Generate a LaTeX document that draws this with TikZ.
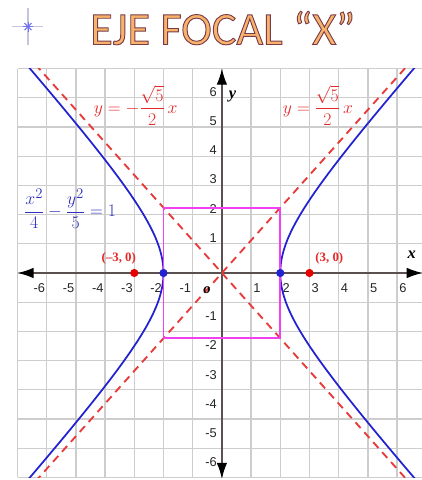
\documentclass[tikz,border=0pt]{standalone}
\usepackage{amsmath}
\usepackage{fontspec}
\newfontfamily\labfont{Liberation Sans}
\newfontfamily\titlefont[FakeBold=2.0]{Carlito}
\newfontfamily\eqfont{Liberation Serif}
\usetikzlibrary{arrows.meta,calc}
\definecolor{gridc}{HTML}{CDCDCD}
\definecolor{axisc}{HTML}{5A5050}
\definecolor{asym}{HTML}{E83A3A}
\definecolor{hyp}{HTML}{2222D0}
\definecolor{boxc}{HTML}{F040F0}
\definecolor{titlefill}{HTML}{F7B36A}
\definecolor{titleline}{HTML}{7A3A4A}
\definecolor{eqred}{HTML}{E62828}
\definecolor{eqblue}{HTML}{3030C0}
\definecolor{starline}{HTML}{C4C4DC}
\definecolor{starc}{HTML}{7070F0}
\tikzset{
  gridline/.style={gridc, line width=1.3pt},
  axisline/.style={axisc, line width=1.3pt, {Latex[black,length=0.55cm,width=0.36cm]}-{Latex[black,length=0.55cm,width=0.36cm]}},
  asymline/.style={asym, line width=1.8pt, dash pattern=on 7.5pt off 5.5pt},
  hypline/.style={hyp, line width=1.7pt},
  boxline/.style={boxc, line width=1.7pt},
  ticklab/.style={font=\labfont\fontsize{12.5}{14}\selectfont, inner sep=0pt, text=black!85},
  ptlab/.style={font=\eqfont\bfseries\fontsize{12.5}{14}\selectfont, text=eqred, inner sep=0pt},
  eqlab/.style={font=\fontsize{19}{22}\selectfont, inner sep=0pt},
  titletext/.style={font=\titlefont\fontsize{45}{50}\selectfont, inner sep=0pt},
}
\begin{document}
\begin{tikzpicture}[x=1cm,y=1cm]
\useasboundingbox (-7.60,-7.09) rectangle (6.85,9.35);
\fill[white] (-7.60,-7.09) rectangle (6.85,9.35);

% star icon
\coordinate (st) at (-6.64,8.44);
\draw[starline, line width=1.2pt] (-6.64,9.08) -- (-6.64,7.81);
\draw[starline, line width=1.2pt] (-7.19,8.44) -- (-6.13,8.44);
\foreach \a in {0,45,90,135} {
  \draw[starc, line width=1pt] ($(st)+(\a:0.17)$) -- ($(st)+(\a+180:0.17)$);
}

% title
\node[titletext, text=titlefill] (title) at (0.03,8.39) {\special{pdf:literal direct 0.478 0.227 0.290 RG}EJE FOCAL “X”};

% grid
\draw[gridline] (-7,-7) grid (6.85,7);

% axes
\coordinate (xl) at (-7,0);
\coordinate (xr) at (6.88,0);
\coordinate (yb) at (0,-7.05);
\coordinate (yt) at (0,7);
\draw[axisline] (xl) -- (xr);
\draw[axisline] (yb) -- (yt);

% tick labels
\foreach \i in {-6,...,-1} {
  \node[ticklab, anchor=east] (xn\i) at (\i-0.05,-0.52) {-\number\numexpr-\i\relax};
  \node[ticklab, anchor=east] (yn\i) at (-0.17,\i-0.48) {-\number\numexpr-\i\relax};
}
\foreach \i in {1,...,6} {
  \node[ticklab, anchor=west] (xp\i) at (\i+0.07,-0.52) {\i};
  \node[ticklab, anchor=east] (yp\i) at (-0.17,\i+0.2) {\i};
}

% curves
\begin{scope}
\clip (-7,-7) rectangle (6.85,7);
\draw[asymline] (-7,-7.826) -- (7,7.826);
\draw[asymline] (-7,7.826) -- (7,-7.826);
\draw[hypline] plot[domain=-1.95:1.95, samples=90, variable=\t] ({2*cosh(\t)},{sqrt(5)*sinh(\t)});
\draw[hypline] plot[domain=-1.95:1.95, samples=90, variable=\t] ({-2*cosh(\t)},{sqrt(5)*sinh(\t)});
\end{scope}

% box
\draw[boxline] (-2,-2.236) rectangle (2,2.236);

% points
\fill[hyp] (-2,0) circle (0.14);
\fill[hyp] (2,0) circle (0.14);
\fill[red!90!black] (-3,0) circle (0.14);
\fill[red!90!black] (3,0) circle (0.14);
\node[ptlab] (pl) at (-3.53,0.51) {(–3, 0)};
\node[ptlab] (pr) at (3.68,0.51) {(3, 0)};

% axis labels
\node[font=\eqfont\bfseries\itshape\fontsize{16}{18}\selectfont, inner sep=0pt] (xlab) at (6.5,0.62) {x};
\node[font=\eqfont\bfseries\itshape\fontsize{16}{18}\selectfont, inner sep=0pt] (ylab) at (0.36,6.03) {y};
\node[font=\eqfont\bfseries\itshape\fontsize{14}{16}\selectfont, inner sep=0pt] (olab) at (-0.51,-0.6) {o};

% equations
\node[eqlab, text=eqred] (eql) at (-2.95,5.75) {$y=-\dfrac{\sqrt{5}}{2}\,x$};
\node[eqlab, text=eqred] (eqr) at (3.29,5.75) {$y=\dfrac{\sqrt{5}}{2}\,x$};
\node[eqlab, text=eqblue] (eqh) at (-5.2,2.2) {$\dfrac{x^2}{4}-\dfrac{y^2}{5}=1$};
\end{tikzpicture}
\end{document}
